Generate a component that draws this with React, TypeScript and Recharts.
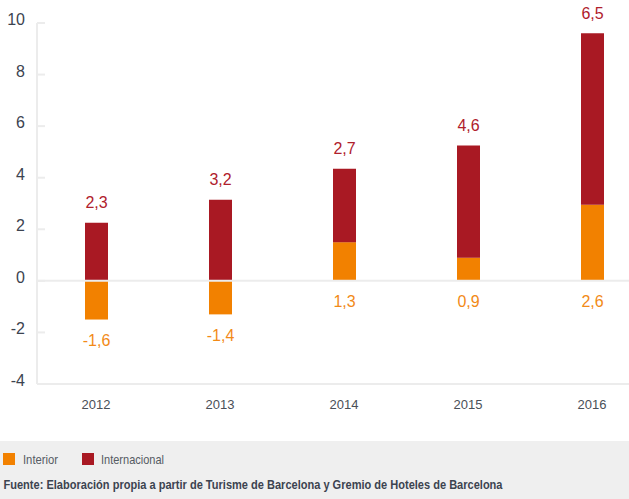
import { BarChart, Bar, XAxis, YAxis, ReferenceLine, LabelList } from "recharts";

const ANIOS = ["2012", "2013", "2014", "2015", "2016"];
const INTERIOR = [-1.5, -1.3, 1.5, 0.9, 2.95];
const INTERNACIONAL = [2.25, 3.15, 2.85, 4.35, 6.65];
const ETIQUETAS_INTERIOR = ["-1,6", "-1,4", "1,3", "0,9", "2,6"];
const ETIQUETAS_INTERNACIONAL = ["2,3", "3,2", "2,7", "4,6", "6,5"];
const TICKS_Y = [-4, -2, 0, 2, 4, 6, 8, 10];

const NARANJA = "#f28100";
const ROJO = "#a91923";
const GRIS_EJE = "#ececec";
const FUENTE = "'Liberation Sans', Arial, Helvetica, sans-serif";
const EJE_X = 37;

const datos = ANIOS.map((anio, i) => ({
  anio,
  interior: INTERIOR[i],
  internacional: INTERNACIONAL[i],
  etqInterior: ETIQUETAS_INTERIOR[i],
  etqInternacional: ETIQUETAS_INTERNACIONAL[i],
}));

/* tick del eje Y: linea corta hacia dentro + numero */
const TickY = (props: any) => {
  const { y, payload } = props;
  return (
    <g>
      <line x1={EJE_X} x2={EJE_X + 8} y1={y} y2={y} stroke={GRIS_EJE} strokeWidth={2} />
      <text
        x={25}
        y={y - 3.5}
        textAnchor="end"
        dominantBaseline="central"
        fontSize={16}
        fontFamily={FUENTE}
        fill="#3c4350"
      >
        {payload.value}
      </text>
    </g>
  );
};

const EtiquetaInterior = (props: any) => {
  const { x, y, width, height, value } = props;
  const abajo = Math.max(y, y + height);
  return (
    <text
      x={x + width / 2}
      y={abajo + 21}
      textAnchor="middle"
      dominantBaseline="central"
      fontSize={16}
      fontFamily={FUENTE}
      fill="#f28a17"
    >
      {value}
    </text>
  );
};

const EtiquetaInternacional = (props: any) => {
  const { x, y, width, height, value } = props;
  const arriba = Math.min(y, y + height);
  return (
    <text
      x={x + width / 2}
      y={arriba - 20}
      textAnchor="middle"
      dominantBaseline="central"
      fontSize={16}
      fontFamily={FUENTE}
      fill="#b0202c"
    >
      {value}
    </text>
  );
};

export default function App() {
  return (
    <div
      style={{
        position: "absolute",
        left: 0,
        top: 0,
        width: 629,
        height: 499,
        overflow: "hidden",
        background: "#fff",
      }}
    >
      <BarChart
        width={654}
        height={441}
        data={datos}
        stackOffset="sign"
        margin={{ top: 23, right: 0, bottom: 0, left: 0 }}
      >
        <XAxis
          dataKey="anio"
          height={57}
          padding={{ left: -3, right: 0 }}
          axisLine={{ stroke: GRIS_EJE, strokeWidth: 2 }}
          tickLine={false}
          tickMargin={10}
          tick={{ fontSize: 13, fontFamily: FUENTE, fill: "#4a4f57" }}
        />
        <YAxis
          width={EJE_X}
          domain={[-4, 10]}
          ticks={TICKS_Y}
          interval={0}
          axisLine={{ stroke: GRIS_EJE, strokeWidth: 2 }}
          tickLine={false}
          tick={<TickY />}
        />
        <Bar dataKey="interior" stackId="a" fill={NARANJA} barSize={23} isAnimationActive={false}>
          <LabelList dataKey="etqInterior" content={<EtiquetaInterior />} />
        </Bar>
        <Bar dataKey="internacional" stackId="a" fill={ROJO} barSize={23} isAnimationActive={false}>
          <LabelList dataKey="etqInternacional" content={<EtiquetaInternacional />} />
        </Bar>
        <ReferenceLine y={0} stroke={GRIS_EJE} strokeWidth={2} />
      </BarChart>

      {/* LEYENDA + FUENTE (texto estrecho) */}
      <svg
        width={629}
        height={58}
        style={{ position: "absolute", left: 0, top: 441, background: "#efefef", display: "block" }}
      >
        <rect x={3} y={12} width={12} height={12} fill={NARANJA} />
        <text x={23} y={18} dominantBaseline="central" fontSize={13} fontFamily={FUENTE} fill="#555b63"
          textLength={35} lengthAdjust="spacingAndGlyphs">
          Interior
        </text>
        <rect x={82} y={12} width={12} height={12} fill={ROJO} />
        <text x={101} y={18} dominantBaseline="central" fontSize={13} fontFamily={FUENTE} fill="#555b63"
          textLength={63} lengthAdjust="spacingAndGlyphs">
          Internacional
        </text>
        <text x={3.5} y={43} dominantBaseline="central" fontSize={13} fontWeight="bold" fontFamily={FUENTE}
          fill="#3c4350" textLength={499} lengthAdjust="spacingAndGlyphs">
          Fuente: Elaboración propia a partir de Turisme de Barcelona y Gremio de Hoteles de Barcelona
        </text>
      </svg>
    </div>
  );
}
